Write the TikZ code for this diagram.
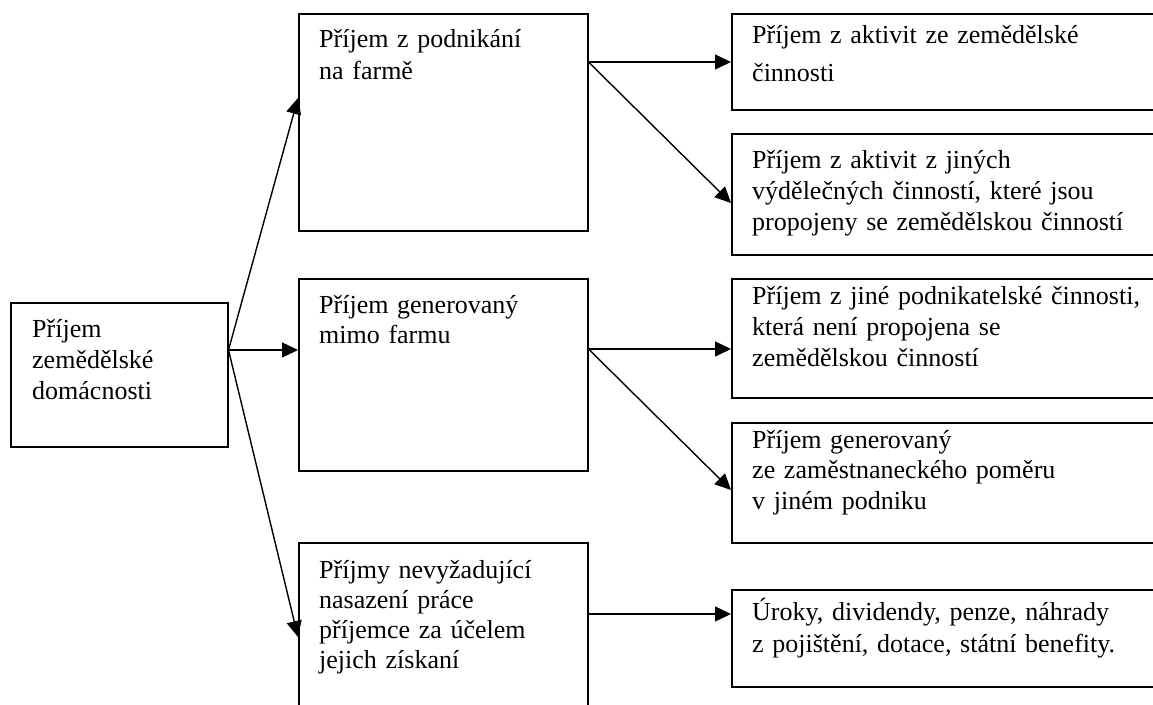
\documentclass[tikz,border=0pt]{standalone}
\usepackage{fontspec}
\setmainfont{Liberation Serif}
\usetikzlibrary{arrows.meta,calc}
\begin{document}
\begin{tikzpicture}[x=1pt,y=-1pt,
  box/.style={draw, line width=1.5pt, rectangle, anchor=north west, inner sep=0pt},
  txt/.style={anchor=base west, align=left, text width=440pt, inner sep=0pt, font=\fontsize{26}{31}\selectfont},
  arr/.style={line width=1.4pt, -{Triangle[length=16pt,width=15pt]}}]
\useasboundingbox (0,0) rectangle (1153,704);
% boxes
\node[box, minimum width=217pt, minimum height=144pt] (L) at (10,302) {};
\node[box, minimum width=289pt, minimum height=217pt] (A) at (298,13) {};
\node[box, minimum width=289pt, minimum height=192pt] (B) at (298,278) {};
\node[box, minimum width=289pt, minimum height=180pt] (C) at (298,542) {};
\node[box, minimum width=430pt, minimum height=96pt] (R1) at (731,13) {};
\node[box, minimum width=430pt, minimum height=121pt] (R2) at (731,133) {};
\node[box, minimum width=430pt, minimum height=119pt] (R3) at (731,278) {};
\node[box, minimum width=430pt, minimum height=120pt] (R4) at (731,422) {};
\node[box, minimum width=430pt, minimum height=97pt] (R5) at (731,589) {};
% texts
\node[txt] (Lt) at (32,337) {Příjem\\zemědělské\\domácnosti};
\node[txt, font=\fontsize{26}{32}\selectfont] (At) at (319,47) {Příjem z podnikání\\na farmě};
\node[txt, font=\fontsize{26}{30}\selectfont] (Bt) at (319,313) {Příjem generovaný\\mimo farmu};
\node[txt, font=\fontsize{26}{30}\selectfont] (Ct) at (319,578) {Příjmy nevyžadující\\nasazení práce\\příjemce za účelem\\jejich získaní};
\node[txt, font=\fontsize{26}{38}\selectfont] (R1t) at (752,43) {Příjem z aktivit ze zemědělské\\činnosti};
\node[txt] (R2t) at (752,168) {Příjem z aktivit z jiných\\výdělečných činností, které jsou\\propojeny se zemědělskou činností};
\node[txt] (R3t) at (752,304) {Příjem z jiné podnikatelské činnosti,\\která není propojena se\\zemědělskou činností};
\node[txt, font=\fontsize{26}{30.5}\selectfont] (R4t) at (752,448) {Příjem generovaný\\ze zaměstnaneckého poměru\\v jiném podniku};
\node[txt, font=\fontsize{26}{32}\selectfont] (R5t) at (752,620) {Úroky, dividendy, penze, náhrady\\z pojištění, dotace, státní benefity.};
% connectors
\coordinate (Lout) at ($(L.north east)+(0,48)$);
\coordinate (Aout) at ($(A.north east)+(0,49)$);
\coordinate (Bout) at ($(B.north east)+(0,71)$);
\coordinate (Cout) at ($(C.north east)+(0,72)$);
\draw[arr] (Lout) -- ($(A.north west)+(0,85)$);
\draw[arr] (Lout) -- (B.west |- Lout);
\draw[arr] (Lout) -- ($(C.north west)+(0,95)$);
\draw[arr] (Aout) -- (R1.west |- Aout);
\draw[arr] (Aout) -- ($(R2.north west)+(0,70)$);
\draw[arr] (Bout) -- (R3.west |- Bout);
\draw[arr] (Bout) -- ($(R4.north west)+(0,68)$);
\draw[arr] (Cout) -- (R5.west |- Cout);
\end{tikzpicture}
\end{document}
